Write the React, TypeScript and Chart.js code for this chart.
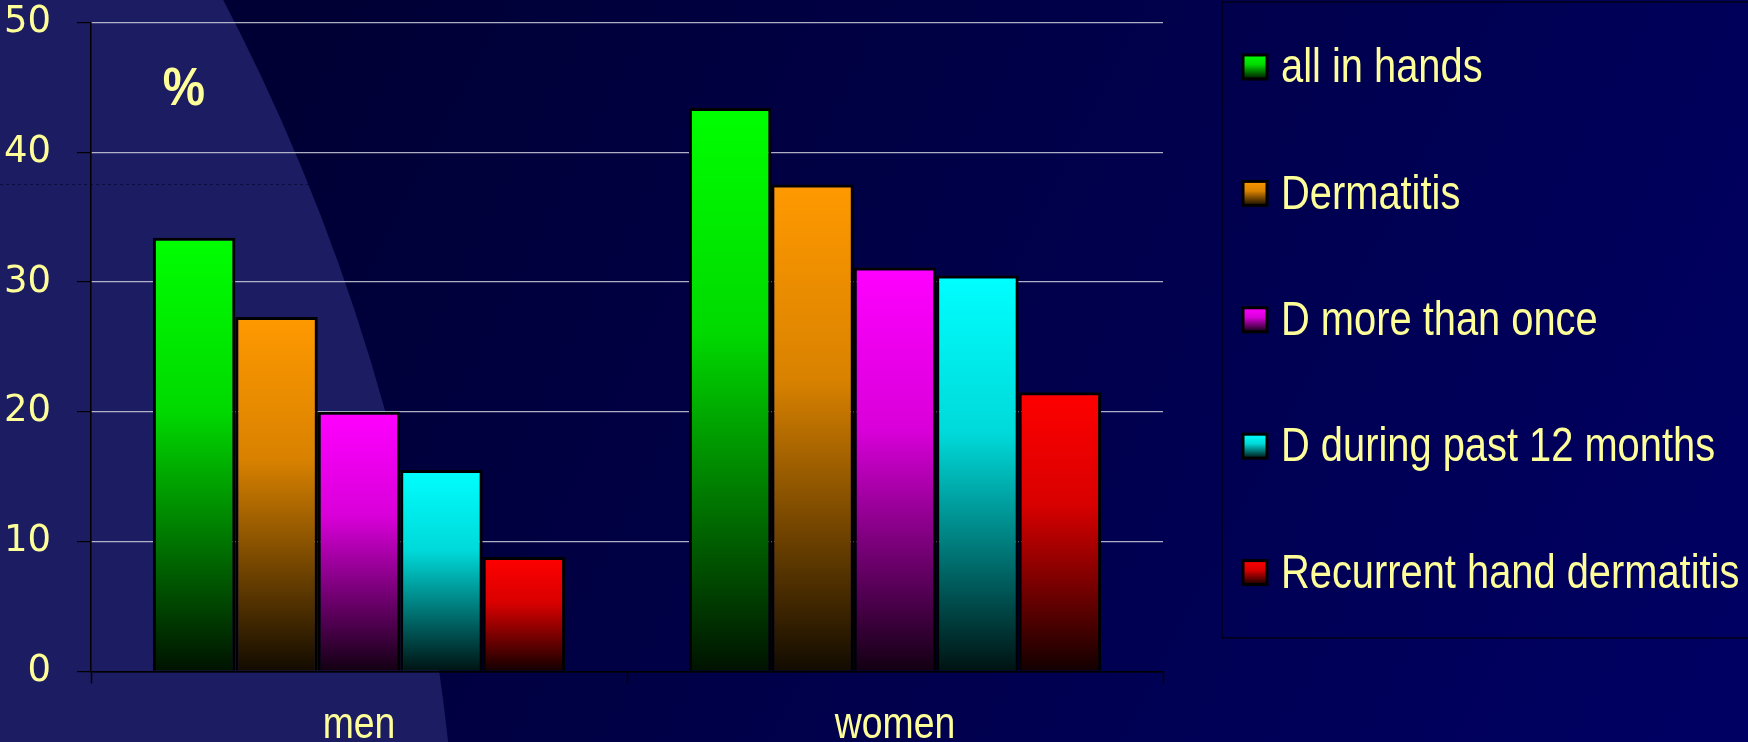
import React, { useEffect, useRef } from 'react';
import { Chart, registerables } from 'chart.js';

Chart.register(...registerables);

// ---- data ----
const categories = ['men', 'women'];
const seriesLabels = [
  'all in hands',
  'Dermatitis',
  'D more than once',
  'D during past 12 months',
  'Recurrent hand dermatitis',
];
const allInHands = [33.4, 43.4];
const dermatitis = [27.3, 37.5];
const dMoreThanOnce = [20.0, 31.1];
const dPast12Months = [15.5, 30.5];
const recurrentHandDermatitis = [8.8, 21.5];
const yTicks = [0, 10, 20, 30, 40, 50];
const unitLabel = '%';

const seriesValues = [allInHands, dermatitis, dMoreThanOnce, dPast12Months, recurrentHandDermatitis];
const seriesColors: number[][] = [
  [0, 255, 0],
  [255, 153, 0],
  [255, 0, 255],
  [0, 255, 255],
  [255, 0, 0],
];

const TEXT = '#FFFF99';
const SANS = "'Liberation Sans', Arial, sans-serif";
const NARROW_X = 0.83; // horizontal compression to mimic a narrow face

function shade(c: number[], f: number) {
  return `rgb(${Math.round(c[0] * f)},${Math.round(c[1] * f)},${Math.round(c[2] * f)})`;
}
function makeGradient(ctx: CanvasRenderingContext2D, top: number, bottom: number, c: number[]) {
  const g = ctx.createLinearGradient(0, top, 0, bottom);
  g.addColorStop(0, shade(c, 1));
  g.addColorStop(0.4, shade(c, 0.85));
  g.addColorStop(1, shade(c, 0.07));
  return g;
}

function narrowText(
  ctx: CanvasRenderingContext2D,
  text: string,
  x: number,
  y: number,
  font: string,
  align: CanvasTextAlign,
  sx = NARROW_X
) {
  ctx.save();
  ctx.font = font;
  ctx.fillStyle = TEXT;
  ctx.textAlign = align;
  ctx.textBaseline = 'middle';
  ctx.translate(x, y);
  ctx.scale(sx, 1);
  ctx.fillText(text, 0, 0);
  ctx.restore();
}

const decoPlugin = {
  id: 'deco',
  beforeDraw(chart: any) {
    const { ctx, width, height } = chart;
    ctx.save();
    const g = ctx.createLinearGradient(300, 0, width, height);
    g.addColorStop(0, '#000034');
    g.addColorStop(1, '#000064');
    ctx.fillStyle = g;
    ctx.fillRect(0, 0, width, height);
    // lighter left region with arc boundary
    ctx.beginPath();
    ctx.arc(-1621, 964, 2081, 0, Math.PI * 2);
    ctx.fillStyle = '#1c1c62';
    ctx.fill();
    ctx.clip();
    ctx.strokeStyle = 'rgba(0,0,40,0.55)';
    ctx.lineWidth = 1;
    ctx.setLineDash([3, 3]);
    ctx.beginPath();
    ctx.moveTo(0, 184.5);
    ctx.lineTo(400, 184.5);
    ctx.stroke();
    ctx.restore();

    // legend frame
    const { chartArea } = chart;
    ctx.save();
    ctx.strokeStyle = '#000018';
    ctx.lineWidth = 1.5;
    ctx.strokeRect(chartArea.right + 59, 2, width, 636);
    ctx.restore();
  },
  afterDraw(chart: any) {
    const { ctx, chartArea, scales } = chart;
    // legend
    const markerLeft = chartArea.right + 80;
    const textX = chartArea.right + 118;
    const firstY = 67;
    const step = 126.4;
    chart.data.datasets.forEach((ds: any, i: number) => {
      const cy = firstY + i * step;
      const s = 24;
      const top = cy - s / 2;
      ctx.save();
      ctx.fillStyle = makeGradient(ctx, top, top + s, seriesColors[i]);
      ctx.fillRect(markerLeft, top, s, s);
      ctx.strokeStyle = '#000';
      ctx.lineWidth = 3;
      ctx.strokeRect(markerLeft, top, s, s);
      ctx.restore();
      narrowText(ctx, ds.label, textX, cy + 2, `48px ${SANS}`, 'left');
    });
    // category labels
    const xs = scales.x;
    categories.forEach((c, i) => {
      narrowText(ctx, c, xs.getPixelForTick(i), 726, `45px ${SANS}`, 'center');
    });
    // unit label
    narrowText(ctx, unitLabel, chartArea.left + 93, chartArea.top + 68, `bold 54px ${SANS}`, 'center', 0.88);
  },
};

export default function App() {
  const ref = useRef<HTMLCanvasElement | null>(null);
  useEffect(() => {
    if (!ref.current) return;
    const chart = new Chart(ref.current, {
      type: 'bar',
      data: {
        labels: categories,
        datasets: seriesValues.map((vals, i) => ({
          label: seriesLabels[i],
          data: vals,
          backgroundColor: (ctx: any) => {
            const c = seriesColors[i];
            if (ctx.type !== 'data') return shade(c, 1);
            const ys = ctx.chart.scales && ctx.chart.scales.y;
            if (!ys || !ctx.chart.chartArea) return shade(c, 1);
            const top = ys.getPixelForValue(ctx.raw as number);
            const bottom = ys.getPixelForValue(0);
            return makeGradient(ctx.chart.ctx, top, bottom, c);
          },
          borderColor: '#000',
          borderWidth: 3,
          categoryPercentage: 0.769,
          barPercentage: 1.0,
        })),
      },
      options: {
        animation: false,
        responsive: false,
        devicePixelRatio: 1,
        layout: { padding: { left: 0, right: 585, top: 0, bottom: 0 } },
        plugins: {
          tooltip: { enabled: false },
          legend: { display: false },
        },
        scales: {
          x: {
            grid: {
              display: true,
              drawOnChartArea: false,
              drawTicks: true,
              tickLength: 12,
              tickColor: '#000',
              tickWidth: 1.5,
              offset: true,
            },
            border: { display: true, color: '#000', width: 1.5 },
            ticks: { display: false },
            afterFit: (s: any) => {
              s.height = 70.7;
              s.paddingLeft = 0;
              s.paddingRight = 0;
            },
          },
          y: {
            min: 0,
            max: 50,
            afterBuildTicks: (s: any) => {
              s.ticks = yTicks.map((v) => ({ value: v }));
            },
            ticks: {
              color: TEXT,
              font: { family: 'DejaVu Sans', size: 37 },
              padding: 26,
              callback: (v: any) => String(v),
            },
            grid: {
              color: (c: any) => (c.tick && c.tick.value === 0 ? '#000' : 'rgba(205,205,220,0.85)'),
              lineWidth: 1.2,
              tickColor: '#000',
              tickLength: 14,
              drawTicks: true,
            },
            border: { display: true, color: '#000', width: 1.5 },
            afterFit: (s: any) => {
              s.width = 91;
              s.paddingTop = 22.3;
              s.paddingBottom = 0;
            },
          },
        },
      },
      plugins: [decoPlugin],
    } as any);
    return () => chart.destroy();
  }, []);

  return (
    <div style={{ position: 'fixed', left: 0, top: 0, width: 1748, height: 742 }}>
      <canvas ref={ref} width={1748} height={742} style={{ display: 'block' }} />
    </div>
  );
}
